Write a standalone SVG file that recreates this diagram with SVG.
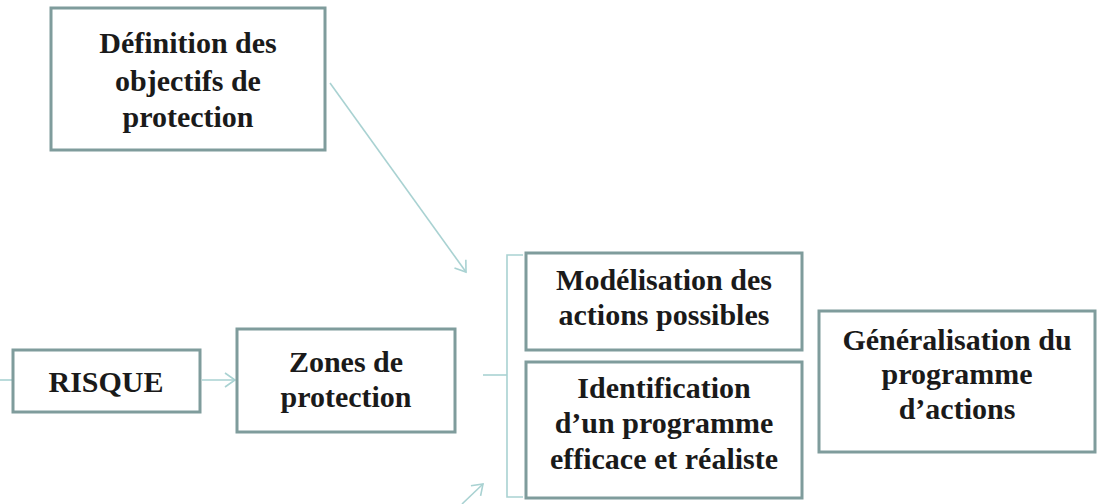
<svg xmlns="http://www.w3.org/2000/svg" width="1115" height="504" viewBox="0 0 1115 504">
<style>
.box{fill:#fff;stroke:#7f9c9c;stroke-width:3}
.t{font-family:'Liberation Serif','DejaVu Serif',serif;font-weight:700;font-size:30px;fill:#1a1a1a;text-anchor:middle}
.c{fill:none;stroke:#a9d2d2;stroke-width:1.6}
</style>
<defs>
<marker id="ah" markerUnits="userSpaceOnUse" markerWidth="20" markerHeight="20" refX="14" refY="10" orient="auto">
<path d="M4,3 L14,10 L4,17" fill="none" stroke="#a9d2d2" stroke-width="1.6"/>
</marker>
</defs>
<rect width="1115" height="504" fill="#fff"/>
<g id="connectors">
<line class="c" x1="0" y1="380" x2="13" y2="380"/>
<line class="c" x1="202" y1="380" x2="235" y2="380" marker-end="url(#ah)"/>
<line class="c" x1="330" y1="83" x2="466" y2="272" marker-end="url(#ah)"/>
<line class="c" x1="462" y1="504" x2="483" y2="484" marker-end="url(#ah)"/>
<line class="c" x1="483" y1="375" x2="507" y2="375"/>
<path class="c" d="M523,255 H507 V497 H523"/>
</g>
<g id="n-definition">
<rect class="box" x="51" y="8" width="274" height="142"/>
<text class="t" x="188" y="53" font-family="Liberation Serif">Définition des</text>
<text class="t" x="188" y="91">objectifs de</text>
<text class="t" x="188" y="127">protection</text>
</g>
<g id="n-risque">
<rect class="box" x="13" y="350" width="187" height="62"/>
<text class="t" x="106" y="392">RISQUE</text>
</g>
<g id="n-zones">
<rect class="box" x="237" y="329" width="218" height="103"/>
<text class="t" x="346" y="372">Zones de</text>
<text class="t" x="346" y="407">protection</text>
</g>
<g id="n-modelisation">
<rect class="box" x="526" y="253" width="276" height="97"/>
<text class="t" x="664" y="290">Modélisation des</text>
<text class="t" x="664" y="325">actions possibles</text>
</g>
<g id="n-identification">
<rect class="box" x="526" y="362" width="276" height="136"/>
<text class="t" x="664" y="398">Identification</text>
<text class="t" x="664" y="433">d’un programme</text>
<text class="t" x="664" y="469">efficace et réaliste</text>
</g>
<g id="n-generalisation">
<rect class="box" x="819" y="311" width="276" height="141"/>
<text class="t" x="957" y="350">Généralisation du</text>
<text class="t" x="957" y="384">programme</text>
<text class="t" x="957" y="419">d’actions</text>
</g>
</svg>
